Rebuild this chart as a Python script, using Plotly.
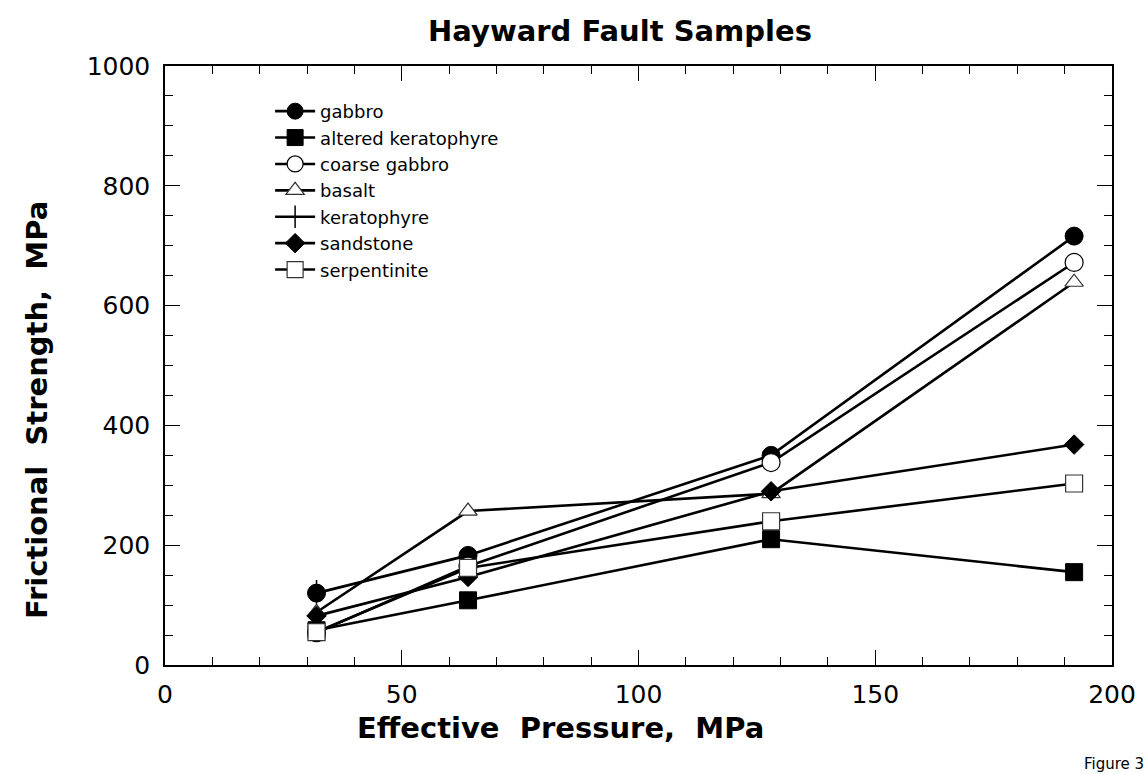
import plotly.graph_objects as go

# Effective pressure steps (MPa)
pressure = [32, 64, 128, 192]

# Frictional strength (MPa) for each rock type
gabbro = [120, 183, 350, 716]
altered_keratophyre = [58, 108, 210, 155]
coarse_gabbro = [54, 165, 338, 672]
basalt = [88, 257, 286, 639]
keratophyre_pressure = [32]
keratophyre = [122]
sandstone = [82, 147, 290, 368]
serpentinite = [55, 162, 240, 303]

series = [
    ("gabbro", pressure, gabbro,
     dict(symbol="circle", size=18, color="black", line=dict(color="black", width=1))),
    ("altered keratophyre", pressure, altered_keratophyre,
     dict(symbol="square", size=17, color="black", line=dict(color="black", width=1))),
    ("coarse gabbro", pressure, coarse_gabbro,
     dict(symbol="circle", size=18, color="white", line=dict(color="black", width=1.2))),
    ("basalt", pressure, basalt,
     dict(symbol="triangle-up", size=16, color="white", line=dict(color="#333", width=1.2))),
    ("keratophyre", keratophyre_pressure, keratophyre,
     dict(symbol="line-ns", size=17, color="black", line=dict(color="black", width=1.5))),
    ("sandstone", pressure, sandstone,
     dict(symbol="diamond", size=15, color="black", line=dict(color="black", width=1))),
    ("serpentinite", pressure, serpentinite,
     dict(symbol="square", size=17, color="white", line=dict(color="#333", width=1.2))),
]

fig = go.Figure()
for name, xs, ys, marker in series:
    fig.add_trace(go.Scatter(
        x=xs, y=ys, name=name, mode="lines+markers",
        line=dict(color="black", width=2.6),
        marker=marker,
    ))

tick_font = dict(family="DejaVu Sans", size=25, color="black")
title_font = dict(family="DejaVu Sans", size=29, color="black", weight="bold")

axis_common = dict(
    showline=True, linecolor="black", linewidth=1.5, mirror="ticks",
    ticks="inside", ticklen=15, tickwidth=1.2, tickcolor="black",
    showgrid=False, zeroline=False, tickfont=tick_font,
)

fig.update_xaxes(
    range=[0, 200], tickvals=[0, 50, 100, 150, 200], ticklabelstandoff=6,
    minor=dict(dtick=10, ticks="inside", ticklen=8, tickcolor="black", tickwidth=1),
    **axis_common,
)
fig.update_yaxes(
    range=[0, 1000], tickvals=[0, 200, 400, 600, 800, 1000], ticklabelstandoff=8,
    minor=dict(dtick=50, ticks="inside", ticklen=8, tickcolor="black", tickwidth=1),
    **axis_common,
)

fig.update_layout(
    width=1148, height=774,
    margin=dict(l=165, r=36, t=66, b=109),
    paper_bgcolor="white", plot_bgcolor="white",
    title=dict(text="Hayward Fault Samples", x=620 / 1148, xref="container",
               xanchor="center", y=1 - 31 / 774, yref="container", yanchor="middle",
               font=title_font),
    showlegend=True,
    legend=dict(
        x=0.111, y=0.955, xanchor="left", yanchor="top",
        bgcolor="rgba(0,0,0,0)", borderwidth=0,
        font=dict(family="DejaVu Sans", size=18, color="black"),
        tracegroupgap=0, itemwidth=40,
    ),
    annotations=[
        dict(text="Effective&nbsp; Pressure,&nbsp; MPa", xref="paper", yref="paper",
             x=(560 - 165) / 947, y=(665 - 728) / 599, xanchor="center", yanchor="middle",
             showarrow=False, font=title_font),
        dict(text="Frictional&nbsp; Strength,&nbsp; MPa", xref="paper", yref="paper",
             x=(37 - 165) / 947, y=(665 - 410) / 599, xanchor="center", yanchor="middle",
             textangle=-90, showarrow=False, font=title_font),
        dict(text="Figure 3", xref="paper", yref="paper",
             x=(1082 - 165) / 947, y=(665 - 753) / 599, xanchor="left", yanchor="top",
             showarrow=False, font=dict(family="DejaVu Sans", size=15, color="black")),
    ],
)

fig.write_html("out.html")
